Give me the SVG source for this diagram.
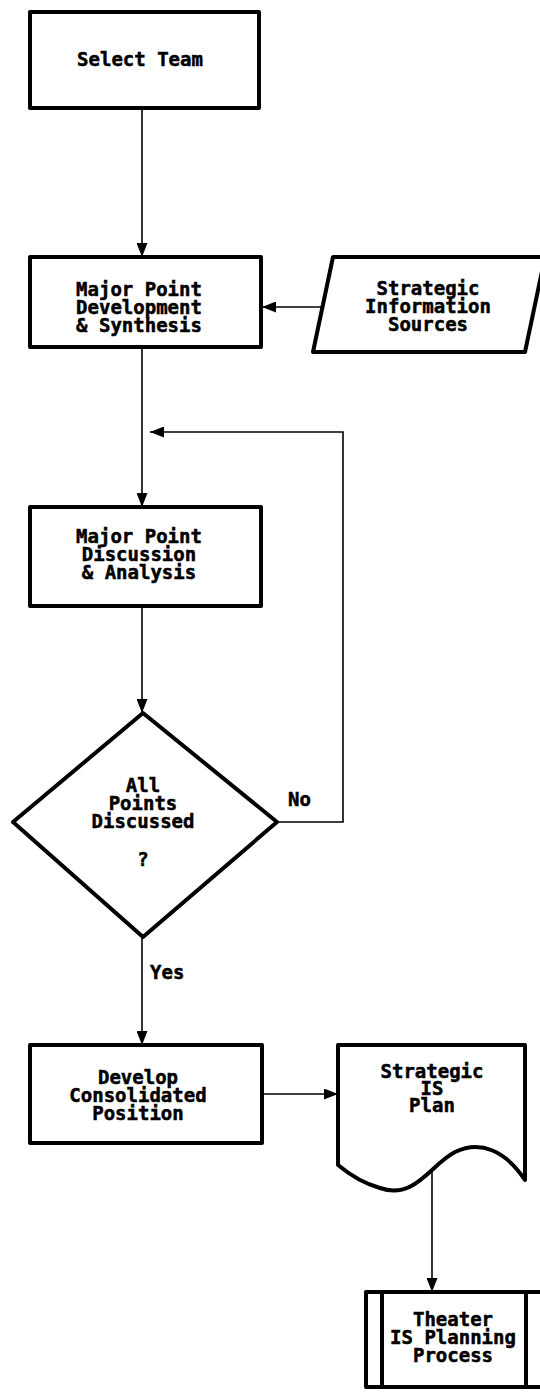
<svg xmlns="http://www.w3.org/2000/svg" width="540" height="1393" viewBox="0 0 540 1393">
<style>
.shape{fill:#fff;stroke:#000;stroke-width:4;stroke-linejoin:round}
.conn{fill:none;stroke:#000;stroke-width:1.6}
.t{font-family:"DejaVu Sans Mono","Liberation Mono",monospace;font-weight:bold;font-size:19px;fill:#000;stroke:#000;stroke-width:0.5;text-anchor:middle}
.tl{font-family:"DejaVu Sans Mono","Liberation Mono",monospace;font-weight:bold;font-size:19px;fill:#000;stroke:#000;stroke-width:0.5}
</style>
<defs>
<marker id="ah" markerUnits="userSpaceOnUse" markerWidth="14" markerHeight="11" refX="14" refY="5.5" orient="auto">
<path d="M0,0 L14,5.5 L0,11 z" fill="#000"/>
</marker>
</defs>
<rect width="540" height="1393" fill="#fff"/>
<g id="connectors">
<line class="conn" x1="142" y1="108" x2="142" y2="257" marker-end="url(#ah)"/>
<line class="conn" x1="330" y1="307" x2="262" y2="307" marker-end="url(#ah)"/>
<line class="conn" x1="142" y1="347" x2="142" y2="507" marker-end="url(#ah)"/>
<line class="conn" x1="142" y1="606" x2="142" y2="713" marker-end="url(#ah)"/>
<polyline class="conn" points="277,822 343,822 343,432 150,432" marker-end="url(#ah)"/>
<line class="conn" x1="142" y1="937" x2="142" y2="1045" marker-end="url(#ah)"/>
<line class="conn" x1="262" y1="1094" x2="338" y2="1094" marker-end="url(#ah)"/>
<line class="conn" x1="432" y1="1168" x2="432" y2="1292" marker-end="url(#ah)"/>
<text class="tl" x="288" y="806">No</text>
<text class="tl" x="150" y="979">Yes</text>
</g>
<g id="select-team">
<rect class="shape" x="30" y="12" width="229" height="96"/>
<text class="t" x="140" y="66">Select Team</text>
</g>
<g id="major-point-development">
<rect class="shape" x="30" y="257" width="231" height="90"/>
<text class="t" x="139" y="296">Major Point</text>
<text class="t" x="139" y="314">Development</text>
<text class="t" x="139" y="332">&amp; Synthesis</text>
</g>
<g id="strategic-information-sources">
<polygon class="shape" points="333,257 545,257 525,352 313,352"/>
<text class="t" x="428" y="295">Strategic</text>
<text class="t" x="428" y="313">Information</text>
<text class="t" x="428" y="331">Sources</text>
</g>
<g id="major-point-discussion">
<rect class="shape" x="30" y="507" width="231" height="99"/>
<text class="t" x="139" y="543">Major Point</text>
<text class="t" x="139" y="561">Discussion</text>
<text class="t" x="139" y="579">&amp; Analysis</text>
</g>
<g id="all-points-discussed">
<polygon class="shape" points="143,713 277,822 143,937 13,822"/>
<text class="t" x="143" y="792">All</text>
<text class="t" x="143" y="810">Points</text>
<text class="t" x="143" y="828">Discussed</text>
<text class="t" x="143" y="866">?</text>
</g>
<g id="develop-consolidated-position">
<rect class="shape" x="30" y="1045" width="232" height="98"/>
<text class="t" x="138" y="1084">Develop</text>
<text class="t" x="138" y="1102">Consolidated</text>
<text class="t" x="138" y="1120">Position</text>
</g>
<g id="strategic-is-plan">
<path class="shape" d="M338,1045 L525,1045 L525,1180 C505,1150 480,1140 455,1152 C430,1165 415,1200 380,1188 C362,1183 350,1175 338,1165 Z"/>
<text class="t" x="432" y="1078">Strategic</text>
<text class="t" x="432" y="1095">IS</text>
<text class="t" x="432" y="1112">Plan</text>
</g>
<g id="theater-is-planning-process">
<rect class="shape" x="366" y="1292" width="178" height="95"/>
<line class="shape" x1="382" y1="1292" x2="382" y2="1387"/>
<line class="shape" x1="526" y1="1292" x2="526" y2="1387"/>
<text class="t" x="453" y="1326">Theater</text>
<text class="t" x="453" y="1344">IS Planning</text>
<text class="t" x="453" y="1362">Process</text>
</g>
</svg>
